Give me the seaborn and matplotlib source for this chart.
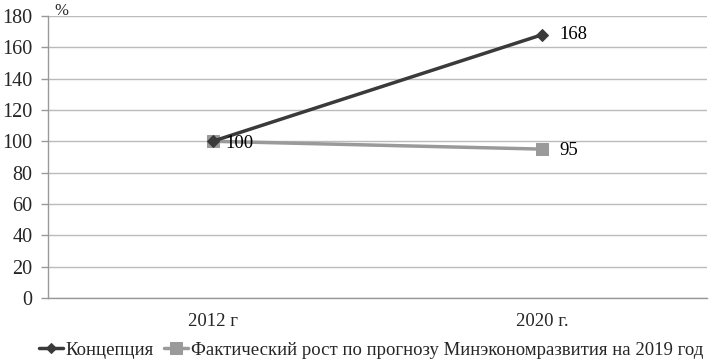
import matplotlib
matplotlib.use("Agg")
import matplotlib.pyplot as plt
import seaborn as sns
import pandas as pd
from matplotlib.ticker import FixedLocator

categories = ["2012 г", "2020 г."]
series_names = ["Концепция", "Фактический рост по прогнозу Минэкономразвития на 2019 год"]
concept_values = [100, 168]
actual_values = [100, 95]
yticks = [0, 20, 40, 60, 80, 100, 120, 140, 160, 180]

sns.set_theme(style="white")
plt.rcParams['font.family'] = ['Liberation Serif', 'DejaVu Serif']

rows = []
for name, vals in zip(series_names, [concept_values, actual_values]):
    for i, (c, v) in enumerate(zip(categories, vals)):
        rows.append({"x": i, "cat": c, "value": v, "series": name})
df = pd.DataFrame(rows)

fig = plt.figure(figsize=(7.15, 3.6), dpi=100)
ax = fig.add_axes([0.067, 0.172, 0.922, 0.784])

palette = {series_names[0]: "#3a3a3a", series_names[1]: "#9a9a9a"}
markers = {series_names[0]: "D", series_names[1]: "s"}
sizes_ms = {series_names[0]: 6, series_names[1]: 9}
for name in series_names:
    sub = df[df.series == name]
    sns.lineplot(data=sub, x="x", y="value", ax=ax, color=palette[name],
                 marker=markers[name], markersize=sizes_ms[name], linewidth=2.5,
                 markeredgecolor=palette[name], label=name,
                 zorder=3 if name == series_names[0] else 2)

ax.annotate(str(concept_values[1]), (1, concept_values[1]), xytext=(12, 0), textcoords="offset points",
            va="center", ha="left", fontsize=13.5, color="black")
ax.annotate(str(actual_values[0]), (0, actual_values[0]), xytext=(9, -1.5), textcoords="offset points",
            va="center", ha="left", fontsize=13.5, color="black")
ax.annotate(str(actual_values[1]), (1, actual_values[1]), xytext=(12, -1), textcoords="offset points",
            va="center", ha="left", fontsize=13.5, color="black")

ax.set_xlim(-0.5, 1.5)
ax.set_ylim(0, 180)
ax.set_yticks(yticks)
ax.set_yticklabels([str(t) for t in yticks], fontsize=14.5)
ax.set_xticks([0, 1])
ax.set_xticklabels(categories, fontsize=13.5)
ax.xaxis.set_minor_locator(FixedLocator([-0.5, 0.5, 1.5]))
ax.tick_params(axis="x", which="major", length=0, pad=11)
ax.tick_params(axis="x", which="minor", length=5, color="#999999", width=1, direction="out")
ax.tick_params(axis="y", length=5, color="#999999", width=1, direction="out", pad=6, left=True)
ax.yaxis.grid(True, color="#bbbbbb", linewidth=1)
ax.set_axisbelow(True)
for s in ["top", "right"]:
    ax.spines[s].set_visible(False)
for s in ["left", "bottom"]:
    ax.spines[s].set_color("#999999")
    ax.spines[s].set_linewidth(1)
ax.set_xlabel("")
ax.set_ylabel("")
fig.text(54 / 715, 1 - 3 / 360, "%", ha="left", va="top", fontsize=12)

leg = ax.legend(loc="center", bbox_to_anchor=(0.49, -0.185), ncol=2, frameon=False,
                fontsize=13.5, handlelength=1.3, handletextpad=0.15, columnspacing=0.5,
                bbox_transform=ax.transAxes, markerscale=0.9)

fig.savefig("out.png", dpi=100)
